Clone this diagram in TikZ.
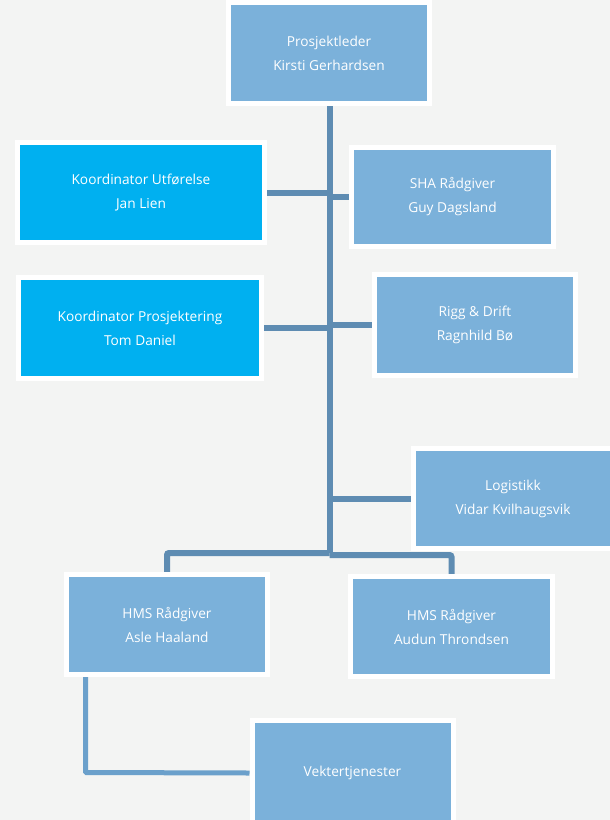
\documentclass[tikz,border=0pt]{standalone}
\usepackage{fontspec}
\setmainfont{Open Sans}
\definecolor{bgc}{HTML}{F3F4F3}
\definecolor{boxc}{HTML}{7BB1DA}
\definecolor{cyanc}{HTML}{00B0F0}
\definecolor{linec}{HTML}{5E8CB2}
\definecolor{line2c}{HTML}{6BA0CB}
\pgfdeclarelayer{bg}
\pgfdeclarelayer{edges}
\pgfsetlayers{bg,edges,main}
\tikzset{
  orgbox/.style={draw=white, line width=5pt, fill=boxc, rectangle, inner sep=0pt,
    text=white, align=center, font=\fontsize{13.7}{24}\selectfont},
  cyanbox/.style={orgbox, fill=cyanc},
  conn/.style={draw=linec, line width=6pt},
  conn2/.style={draw=line2c, line width=5pt, rounded corners=1pt},
}
\begin{document}
\begin{tikzpicture}[x=1pt,y=1pt]
\useasboundingbox (0,0) rectangle (610,-820);
\clip (0,0) rectangle (610,-820);
\begin{pgfonlayer}{bg}
\fill[bgc] (0,0) rectangle (610,-820);
\end{pgfonlayer}
\node[orgbox, minimum width=201pt, minimum height=101pt] (P) at (329,-53) {Prosjektleder\\Kirsti Gerhardsen};
\node[cyanbox, minimum width=247pt, minimum height=100pt] (KU) at (141,-192.5) {Koordinator Utførelse\\Jan Lien};
\node[orgbox, minimum width=202pt, minimum height=99pt] (SHA) at (452.5,-197) {SHA Rådgiver\\Guy Dagsland};
\node[cyanbox, minimum width=243pt, minimum height=101pt] (KP) at (140,-328) {Koordinator Prosjektering\\Tom Daniel};
\node[orgbox, minimum width=201pt, minimum height=101pt] (R) at (475,-325) {Rigg \& Drift\\Ragnhild Bø};
\node[orgbox, minimum width=199pt, minimum height=100pt] (L) at (513,-498.5) {Logistikk\\Vidar Kvilhaugsvik};
\node[orgbox, minimum width=201pt, minimum height=100pt] (HL) at (167,-624.5) {HMS Rådgiver\\Asle Haaland};
\node[orgbox, minimum width=202pt, minimum height=100pt] (HR) at (451.5,-626.5) {HMS Rådgiver\\Audun Throndsen};
\node[orgbox, minimum width=201pt, minimum height=105pt] (V) at (352.5,-773) {Vektertjenester};
\coordinate (T) at (329.5,-553);
\coordinate (TR) at (329.5,-555);
\coordinate (VB) at (85.5,-772.5);
\begin{pgfonlayer}{edges}
\draw[conn] (329.5,-100) coordinate (PB) -- (T);
\draw[conn] (KU.east) -- (KU.east -| PB);
\draw[conn] (SHA.west -| PB) -- (SHA.west);
\draw[conn] (KP.east) -- (KP.east -| PB);
\draw[conn] (R.west -| PB) -- (R.west);
\draw[conn] (L.west -| PB) -- (L.west);
\draw[conn, rounded corners=2pt] (T) -- (T -| HL.north) -- (HL.north);
\draw[conn, rounded corners=2pt] (TR) -- (TR -| HR.north) -- (HR.north);
\draw[conn2] (HL.south -| VB) -- (VB) -- (V.west);
\end{pgfonlayer}
\end{tikzpicture}
\end{document}
